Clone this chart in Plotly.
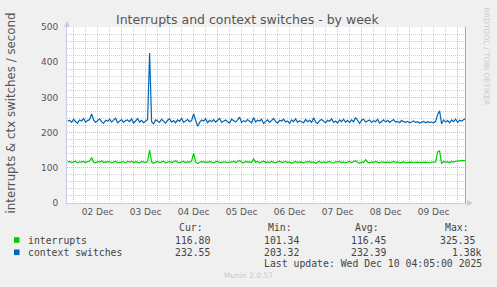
import datetime as dt
import plotly.graph_objects as go

# ---------------- data ----------------
start_time = dt.datetime(2025, 12, 1, 21, 0)
ctx_switches = [
    232, 235, 229, 238, 231, 227, 236, 233, 240, 230,
    234, 237, 253, 236, 229, 233, 239, 231, 226, 235,
    232, 238, 230, 236, 241, 228, 233, 237, 229, 234,
    236, 231, 239, 227, 233, 240, 230, 235, 228, 232,
    237, 426, 231, 225, 236, 233, 229, 238, 232, 227,
    235, 239, 230, 234, 228, 236, 232, 240, 229, 233,
    237, 231, 234, 253, 232, 218, 229, 236, 233, 239,
    228, 235, 231, 237, 230, 234, 240, 229, 233, 236,
    231, 227, 238, 233, 230, 236, 244, 229, 234, 231,
    237, 232, 228, 243, 230, 235, 233, 238, 226, 232,
    236, 229, 234, 240, 231, 227, 235, 233, 238, 230,
    233, 226, 236, 231, 239, 229, 234, 232, 228, 237,
    231, 235, 229, 242, 230, 226, 234, 237, 231, 228,
    235, 232, 239, 229, 233, 227, 236, 231, 238, 230,
    234, 229, 236, 231, 243, 233, 226, 235, 238, 230,
    232, 236, 229, 234, 231, 238, 227, 233, 236, 230,
    235, 229, 233, 237, 230, 232, 228, 235, 231, 229,
    232, 228, 230, 233, 229, 231, 227, 230, 232, 228,
    231, 229, 230, 228, 232, 251, 262, 225, 236, 230,
    234, 228, 236, 231, 238, 229, 235, 233, 237, 240,
]
interrupts = [
    116, 118, 115, 117, 119, 114, 117, 116, 118, 115,
    117, 119, 129, 116, 114, 118, 116, 120, 115, 117,
    116, 118, 114, 117, 119, 115, 116, 118, 117, 114,
    118, 116, 119, 115, 117, 116, 114, 118, 117, 115,
    118, 151, 117, 113, 116, 118, 115, 117, 119, 114,
    116, 118, 115, 117, 120, 116, 114, 117, 118, 115,
    117, 116, 119, 142, 117, 112, 115, 118, 116, 117,
    115, 118, 116, 114, 117, 119, 115, 116, 118, 117,
    114, 117, 116, 119, 115, 117, 121, 116, 114, 118,
    116, 117, 115, 125, 116, 118, 114, 117, 119, 115,
    117, 115, 118, 116, 114, 117, 119, 115, 116, 118,
    115, 117, 113, 116, 118, 115, 117, 116, 114, 117,
    116, 118, 115, 117, 113, 116, 118, 114, 117, 115,
    116, 118, 115, 114, 117, 116, 118, 115, 117, 114,
    116, 118, 115, 117, 120, 116, 113, 117, 115, 123,
    116, 114, 117, 115, 118, 116, 114, 117, 116, 115,
    117, 115, 116, 118, 115, 117, 114, 116, 117, 115,
    116, 115, 116, 115, 116, 116, 115, 116, 115, 116,
    115, 116, 115, 116, 117, 145, 148, 112, 118, 116,
    117, 115, 118, 116, 119, 120, 119, 121, 120, 122,
]
times = [start_time + dt.timedelta(hours=i) for i in range(len(ctx_switches))]

series_names = ["interrupts", "context switches"]
series_colors = ["#00cc00", "#0066b3"]
stat_headers = ["Cur:", "Min:", "Avg:", "Max:"]
stats = [
    ["116.80", "101.34", "116.45", "325.35"],
    ["232.55", "203.32", "232.39", "1.38k"],
]
title = "Interrupts and context switches - by week"
y_title = "interrupts & ctx switches / second"
last_update = "Last update: Wed Dec 10 04:05:00 2025"
x_range = [dt.datetime(2025, 12, 1, 20, 42), dt.datetime(2025, 12, 10, 4, 42)]
now_time = dt.datetime(2025, 12, 10, 4, 0)

# ---------------- figure ----------------
W, H = 497, 287
L, R, T, B = 67, 30, 27, 84
PW, PH = W - L - R, H - T - B


def px(x):
    return (x - L) / PW


def py(y):
    return (H - B - y) / PH


fig = go.Figure()
fig.add_trace(go.Scatter(x=times, y=interrupts, mode="lines",
                         line=dict(color=series_colors[0], width=1.2),
                         name=series_names[0], hoverinfo="skip"))
fig.add_trace(go.Scatter(x=times, y=ctx_switches, mode="lines",
                         line=dict(color=series_colors[1], width=1.2),
                         name=series_names[1], hoverinfo="skip"))

major_grid = "rgba(255,95,95,0.55)"
minor_grid = "rgba(95,95,95,0.28)"
axis_col = "#c8cce8"
txt = "#555555"
mono = "DejaVu Sans Mono"
sans = "DejaVu Sans"

fig.update_layout(
    width=W, height=H,
    margin=dict(l=L, r=R, t=T, b=B, pad=0),
    paper_bgcolor="#f0f0f0", plot_bgcolor="#ffffff",
    showlegend=False,
    font=dict(family=sans, color=txt, size=9),
    xaxis=dict(
        type="date", range=x_range, tick0="2025-12-02", dtick=86400000,
        tickformat="%d %b", ticklabelmode="period",
        showgrid=True, gridcolor=major_grid, griddash="1px,1px", gridwidth=1,
        minor=dict(dtick=21600000, tick0="2025-12-02", showgrid=True,
                   gridcolor=minor_grid, griddash="1px,1px", gridwidth=1),
        showline=True, linecolor=axis_col, linewidth=1,
        ticks="", zeroline=False, tickfont=dict(size=9, color=txt),
        fixedrange=True,
    ),
    yaxis=dict(
        range=[0, 500], dtick=100, tick0=0,
        showgrid=True, gridcolor=major_grid, griddash="1px,1px", gridwidth=1,
        minor=dict(dtick=20, showgrid=True, gridcolor=minor_grid,
                   griddash="1px,1px", gridwidth=1),
        showline=True, linecolor=axis_col, linewidth=1,
        ticks="", zeroline=False, tickfont=dict(size=9, color=txt),
        ticklabelstandoff=6, fixedrange=True,
    ),
)

# "now" rule
fig.add_shape(type="line", xref="x", yref="paper", x0=now_time, x1=now_time,
              y0=0, y1=1, line=dict(color="#999999", width=1))
# axis arrows
fig.add_shape(type="path", xref="paper", yref="paper",
              path=f"M {px(64)} {py(27)} L {px(70)} {py(27)} L {px(67)} {py(21)} Z",
              fillcolor="#c8cce8", line=dict(width=0))
fig.add_shape(type="path", xref="paper", yref="paper",
              path=f"M {px(467)} {py(200)} L {px(467)} {py(206)} L {px(473)} {py(203)} Z",
              fillcolor="#c8cce8", line=dict(width=0))

ann = []
ann.append(dict(text=title, x=px(248), y=py(19.3), xref="paper", yref="paper",
                xanchor="center", yanchor="middle", showarrow=False,
                font=dict(family=sans, size=12.5, color=txt)))
ann.append(dict(text=y_title, x=px(10), y=py(113.5), xref="paper", yref="paper",
                xanchor="center", yanchor="middle", showarrow=False, textangle=-90,
                font=dict(family=sans, size=11.8, color=txt)))
ann.append(dict(text="RRDTOOL / TOBI OETIKER", x=px(486), y=py(5), xref="paper",
                yref="paper", xanchor="center", yanchor="top", showarrow=False,
                textangle=90, font=dict(family=sans, size=7.6, color="#cccccc")))

mfont = dict(family=mono, size=9.8, color="#444444")
head_right = [204, 293, 380.3, 469.7]
val_right = [[210.7, 299.7, 387, 476.3], [210.7, 299.7, 387, 483]]
row_y = [240, 252.3]
for h, xr in zip(stat_headers, head_right):
    ann.append(dict(text=h, x=px(xr), y=py(227.3), xref="paper", yref="paper",
                    xanchor="right", yanchor="middle", showarrow=False,
                    borderpad=0, font=mfont))
for i, name in enumerate(series_names):
    ann.append(dict(text=name, x=px(26.7), y=py(row_y[i]), xref="paper", yref="paper",
                    xanchor="left", yanchor="middle", showarrow=False,
                    borderpad=0, font=mfont))
    fig.add_shape(type="rect", xref="paper", yref="paper",
                  x0=px(14), x1=px(19.5), y0=py(row_y[i] + 2.8), y1=py(row_y[i] - 2.8),
                  fillcolor=series_colors[i], line=dict(width=0))
    for v, xr in zip(stats[i], val_right[i]):
        ann.append(dict(text=v, x=px(xr), y=py(row_y[i]), xref="paper", yref="paper",
                        xanchor="right", yanchor="middle", showarrow=False,
                        borderpad=0, font=mfont))
ann.append(dict(text=last_update, x=px(483), y=py(263.3), xref="paper", yref="paper",
                xanchor="right", yanchor="middle", showarrow=False, borderpad=0,
                font=mfont))
ann.append(dict(text="Munin 2.0.57", x=px(248), y=py(275.7), xref="paper", yref="paper",
                xanchor="center", yanchor="middle", showarrow=False, borderpad=0,
                font=dict(family=sans, size=7.5, color="#c8c8c8")))
fig.update_layout(annotations=ann)

fig.write_html("out.html", config={"displayModeBar": False})
